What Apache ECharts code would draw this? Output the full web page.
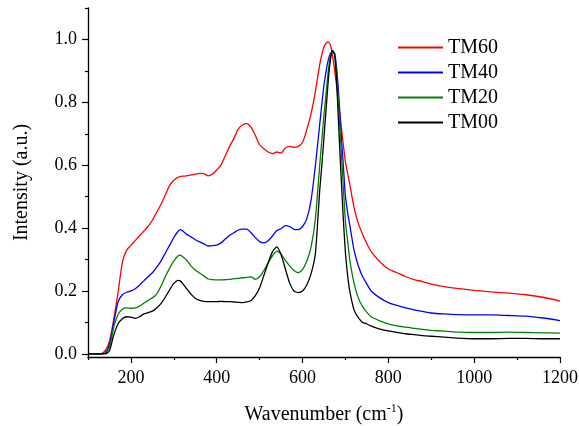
<!DOCTYPE html>
<html>
<head>
<meta charset="utf-8">
<script src="https://cdn.jsdelivr.net/npm/echarts@6/dist/echarts.min.js"></script>
<style>
html,body{margin:0;padding:0;background:#fff;}
#chart{width:579px;height:426px;}
</style>
</head>
<body>
<div id="chart"></div>
<script>
var wavenumber = [100,130,140,150,160,170,180,190,200,210,220,230,240,250,260,270,280,290,300,310,315,320,330,340,350,360,370,380,390,400,410,420,430,440,450,460,470,480,490,500,510,520,530,540,550,560,570,580,590,600,610,620,630,640,645,650,655,660,665,670,675,680,685,690,695,700,705,710,720,730,740,750,760,780,800,820,840,860,880,900,930,960,1000,1040,1080,1120,1160,1200];

var tm60 = [0.0,0.0,0.01,0.04,0.11,0.195,0.29,0.33,0.345,0.36,0.375,0.39,0.405,0.425,0.45,0.475,0.505,0.535,0.552,0.562,0.564,0.565,0.566,0.569,0.571,0.574,0.573,0.566,0.572,0.585,0.6,0.63,0.66,0.685,0.715,0.728,0.732,0.72,0.695,0.665,0.652,0.642,0.637,0.642,0.639,0.655,0.66,0.657,0.66,0.672,0.713,0.765,0.835,0.92,0.952,0.977,0.988,0.992,0.982,0.948,0.9,0.845,0.785,0.725,0.665,0.61,0.575,0.54,0.465,0.415,0.38,0.35,0.325,0.293,0.27,0.258,0.246,0.236,0.23,0.222,0.214,0.208,0.202,0.197,0.193,0.188,0.18,0.168];

var tm40 = [0.0,0.0,0.003,0.03,0.1,0.165,0.188,0.196,0.2,0.207,0.218,0.232,0.245,0.258,0.275,0.295,0.32,0.345,0.37,0.39,0.395,0.392,0.38,0.372,0.363,0.356,0.35,0.343,0.344,0.346,0.353,0.365,0.377,0.385,0.394,0.397,0.397,0.385,0.37,0.357,0.353,0.36,0.375,0.392,0.398,0.408,0.405,0.396,0.395,0.405,0.43,0.49,0.6,0.73,0.795,0.855,0.9,0.935,0.955,0.963,0.955,0.9,0.81,0.7,0.6,0.5,0.45,0.41,0.33,0.28,0.245,0.222,0.2,0.178,0.163,0.154,0.146,0.14,0.135,0.13,0.127,0.125,0.124,0.124,0.122,0.12,0.114,0.106];

var tm20 = [0.0,0.0,0.002,0.02,0.085,0.125,0.142,0.146,0.145,0.146,0.152,0.161,0.17,0.178,0.19,0.215,0.245,0.272,0.295,0.312,0.314,0.31,0.298,0.28,0.267,0.257,0.248,0.238,0.236,0.235,0.235,0.236,0.237,0.239,0.24,0.242,0.243,0.245,0.237,0.245,0.265,0.29,0.312,0.327,0.318,0.297,0.28,0.265,0.258,0.268,0.295,0.34,0.43,0.6,0.68,0.76,0.83,0.9,0.945,0.963,0.95,0.88,0.77,0.65,0.53,0.42,0.36,0.3,0.225,0.178,0.15,0.132,0.118,0.105,0.095,0.089,0.085,0.081,0.078,0.075,0.072,0.069,0.068,0.068,0.069,0.068,0.067,0.066];

var tm00 = [0.0,0.0,0.0,0.01,0.06,0.095,0.112,0.118,0.117,0.113,0.118,0.127,0.131,0.136,0.146,0.16,0.18,0.203,0.224,0.234,0.232,0.225,0.207,0.19,0.177,0.17,0.167,0.166,0.166,0.166,0.167,0.166,0.166,0.165,0.164,0.163,0.165,0.17,0.185,0.21,0.25,0.29,0.325,0.34,0.315,0.27,0.225,0.2,0.195,0.2,0.22,0.255,0.32,0.52,0.6,0.69,0.78,0.87,0.935,0.965,0.95,0.85,0.7,0.56,0.43,0.32,0.25,0.2,0.14,0.115,0.1,0.095,0.088,0.079,0.073,0.068,0.064,0.061,0.058,0.056,0.053,0.05,0.048,0.048,0.049,0.049,0.048,0.048];

var seriesNames = ['TM60','TM40','TM20','TM00'];
var seriesColors = ['#ff0000','#0000ff','#008000','#000000'];
var xMajorTicks = [200,400,600,800,1000,1200];
var xMinorTicks = [100,300,500,700,900,1100];
var yMajorTicks = [0.0,0.2,0.4,0.6,0.8,1.0];
var yMinorTicks = [0.1,0.3,0.5,0.7,0.9,1.1];

var FONT = "'Liberation Serif','Times New Roman',serif";

function pairs(ys){ return wavenumber.map(function(x,i){ return [x, ys[i]]; }); }
var allData = [tm60, tm40, tm20, tm00];

var chart = echarts.init(document.getElementById('chart'), null, {renderer:'canvas'});

var grid = {left:88, right:19, top:8, bottom:69, containLabel:false, outerBoundsMode:'none'};
var xCommon = {type:'value', min:100, max:1200, splitLine:{show:false}};
var yCommon = {type:'value', min:-0.01, max:1.1, splitLine:{show:false}};

var option = {
  animation:false,
  backgroundColor:'#ffffff',
  grid: grid,
  legend: {
    orient:'vertical', left:398, top:37.5, padding:0,
    icon:'rect', itemWidth:45, itemHeight:2, itemGap:5,
    data: seriesNames,
    textStyle:{fontFamily:FONT, fontSize:20, color:'#000', lineHeight:20}
  },
  xAxis: [
    Object.assign({}, xCommon, {
      position:'bottom',
      axisLine:{show:true, onZero:false, lineStyle:{color:'#000', width:1.3}},
      axisTick:{show:true, inside:false, length:6, customValues:xMajorTicks, lineStyle:{color:'#000', width:1.2}},
      axisLabel:{show:true, customValues:xMajorTicks, margin:12, fontFamily:FONT, fontSize:18, color:'#000',
        formatter:function(v){ return String(v); }},
      name:'Wavenumber (cm{sup|-1})',
      nameLocation:'middle', nameGap:46,
      nameTextStyle:{fontFamily:FONT, fontSize:20, color:'#000',
        rich:{sup:{fontFamily:FONT, fontSize:12, color:'#000', verticalAlign:'bottom', padding:[0,0,11,0]}}}
    }),
    Object.assign({}, xCommon, {
      position:'bottom',
      axisLine:{show:false, onZero:false},
      axisTick:{show:true, inside:false, length:3, customValues:xMinorTicks, lineStyle:{color:'#000', width:1.2}},
      axisLabel:{show:false}
    })
  ],
  yAxis: [
    Object.assign({}, yCommon, {
      position:'left',
      axisLine:{show:true, onZero:false, lineStyle:{color:'#000', width:1.3}},
      axisTick:{show:true, inside:false, length:6, customValues:yMajorTicks, lineStyle:{color:'#000', width:1.2}},
      axisLabel:{show:true, customValues:yMajorTicks, margin:11, fontFamily:FONT, fontSize:18, color:'#000',
        formatter:function(v){ return v.toFixed(1); }},
      name:'Intensity (a.u.)',
      nameLocation:'middle', nameGap:56, nameRotate:90,
      nameTextStyle:{fontFamily:FONT, fontSize:20, color:'#000'}
    }),
    Object.assign({}, yCommon, {
      position:'left',
      axisLine:{show:false, onZero:false},
      axisTick:{show:true, inside:false, length:3, customValues:yMinorTicks, lineStyle:{color:'#000', width:1.2}},
      axisLabel:{show:false}
    })
  ],
  series: seriesNames.map(function(n, i){
    return {
      name:n, type:'line', xAxisIndex:0, yAxisIndex:0,
      data: pairs(allData[i]),
      showSymbol:false, symbol:'none', smooth:0.2,
      color: seriesColors[i],
      lineStyle:{color:seriesColors[i], width:1.3},
      z: 2 + i
    };
  })
};
chart.setOption(option);
</script>
</body>
</html>
